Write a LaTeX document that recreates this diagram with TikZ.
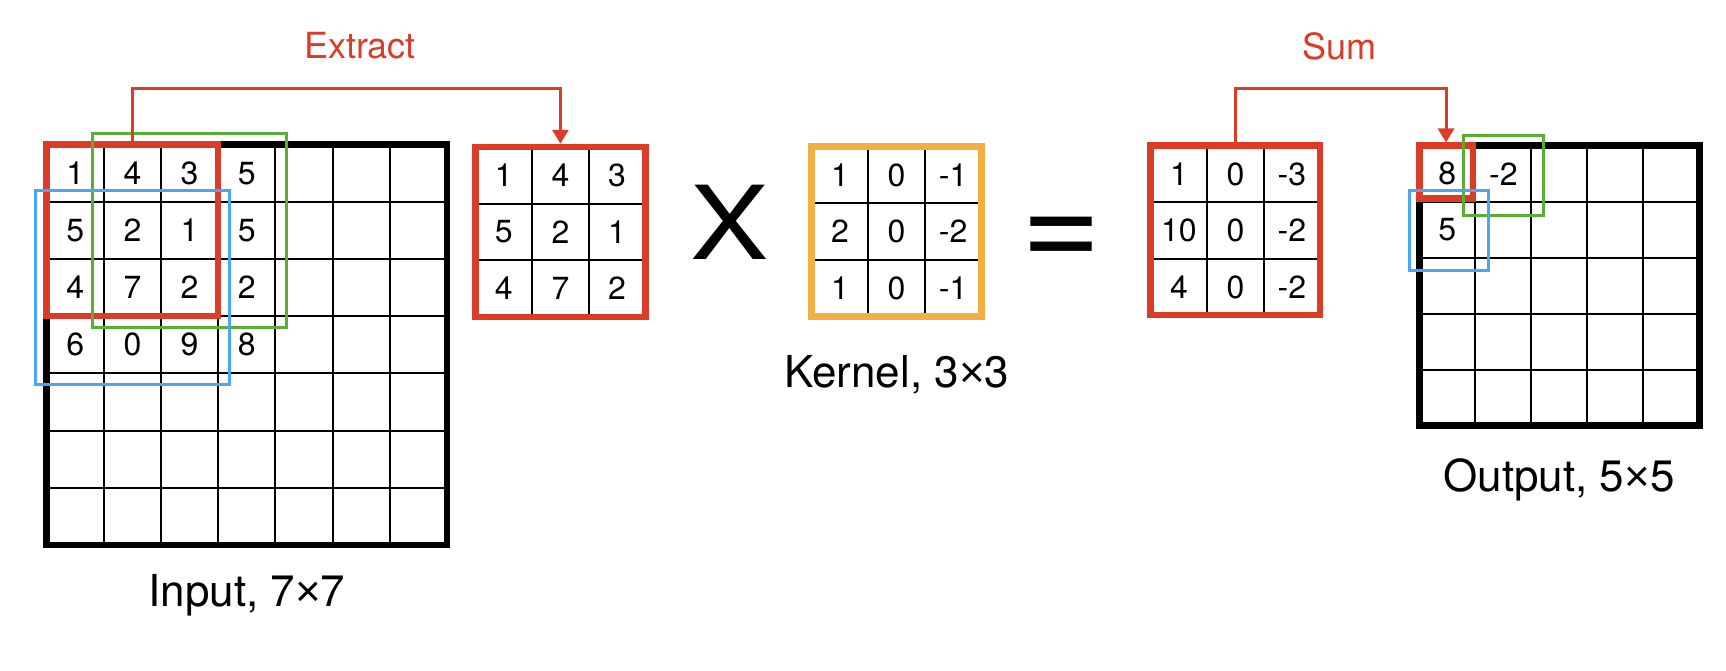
\documentclass[tikz,border=0pt]{standalone}
\usepackage{fontspec}
\setmainfont{TeX Gyre Heros}
\newfontfamily\timesfont{Liberation Sans}
\usetikzlibrary{arrows.meta}

\definecolor{boxred}{RGB}{219,60,39}
\definecolor{boxgreen}{RGB}{91,173,53}
\definecolor{boxblue}{RGB}{74,165,245}
\definecolor{boxorange}{RGB}{243,175,65}

\begin{document}
\begin{tikzpicture}[x=1pt,y=-1pt]
        \tikzstyle{every node} = [inner sep=0pt]
        \tikzstyle{num} = [font=\fontsize{32}{36}\selectfont]
        \tikzstyle{lbl} = [font=\fontsize{44}{50}\selectfont, anchor=base]
        \tikzstyle{op} = [font=\fontsize{36}{40}\selectfont, text=boxred, anchor=base]
        \tikzstyle{frame} = [draw, rectangle, line width=6.5pt]
        \tikzstyle{win} = [draw, rectangle, line width=3pt]
        \tikzstyle{gridline} = [line width=2pt]
        \tikzstyle{link} = [draw=boxred, line width=3pt, -{Triangle[width=16pt,length=14pt]}]
        \useasboundingbox (0,0) rectangle (1726,670);

        % input 7x7
        \foreach \i in {1,...,6} {
            \draw[gridline] ({46.6+57.2*\i},144.6) -- ++(0,400.4);
            \draw[gridline] (46.6,{144.6+57.2*\i}) -- ++(400.4,0);
        }
        \node[frame, minimum width=400.4pt, minimum height=400.4pt] (input) at (246.8,344.8) {};
        \foreach \v [count=\k from 0] in {1,4,3,5,5,2,1,5,4,7,2,2,6,0,9,8}
            \node[num] (in\k) at ({46.6+57.2*(mod(\k,4)+0.5)},{144.6+57.2*(floor(\k/4)+0.5)}) {\v};
        \node[frame, draw=boxred, minimum width=171.6pt, minimum height=171.6pt] (inred) at (132.4,230.4) {};
        \node[win, draw=boxgreen, minimum width=194.6pt, minimum height=194.6pt] (ingreen) at (189.6,230.4) {};
        \node[win, draw=boxblue, minimum width=194.6pt, minimum height=194.6pt] (inblue) at (132.4,287.6) {};
        \node[lbl] (inlabel) at (246.8,606.7) {Input, 7{\timesfont ×}7};

        % extracted patch
        \foreach \i in {1,2} {
            \draw[gridline] ({475.5+56.6*\i},147) -- ++(0,169.8);
            \draw[gridline] (475.5,{147+56.6*\i}) -- ++(169.8,0);
        }
        \node[frame, draw=boxred, minimum width=169.8pt, minimum height=169.8pt] (patch) at (560.4,231.9) {};
        \foreach \v [count=\k from 0] in {1,4,3,5,2,1,4,7,2}
            \node[num] (pa\k) at ({475.5+56.6*(mod(\k,3)+0.5)},{147+56.6*(floor(\k/3)+0.5)}) {\v};

        \node[font=\fontsize{102}{110}\selectfont, anchor=base] (times) at (730,259.3) {\scalebox{1.15}[1]{X}};

        % kernel
        \foreach \i in {1,2} {
            \draw[gridline] ({811.7+56.6*\i},146.7) -- ++(0,169.8);
            \draw[gridline] (811.7,{146.7+56.6*\i}) -- ++(169.8,0);
        }
        \node[frame, draw=boxorange, minimum width=169.8pt, minimum height=169.8pt] (kernel) at (896.6,231.6) {};
        \foreach \v [count=\k from 0] in {1,0,-1,2,0,-2,1,0,-1}
            \node[num] (ke\k) at ({811.7+56.6*(mod(\k,3)+0.5)},{146.7+56.6*(floor(\k/3)+0.5)}) {\v};
        \node[lbl] (kelabel) at (896.7,387.7) {Kernel, 3{\timesfont ×}3};

        \node[font=\fontsize{137}{140}\selectfont, anchor=base] (equals) at (1061.3,268.5) {=};

        % products
        \foreach \i in {1,2} {
            \draw[gridline] ({1150.7+56.5*\i},145.7) -- ++(0,169.5);
            \draw[gridline] (1150.7,{145.7+56.5*\i}) -- ++(169.5,0);
        }
        \node[frame, draw=boxred, minimum width=169.5pt, minimum height=169.5pt] (prod) at (1235.45,230.45) {};
        \foreach \v [count=\k from 0] in {1,0,-3,10,0,-2,4,0,-2}
            \node[num] (pr\k) at ({1150.7+56.5*(mod(\k,3)+0.5)},{145.7+56.5*(floor(\k/3)+0.5)}) {\v};

        % output 5x5
        \foreach \i in {1,...,4} {
            \draw[gridline] ({1419.3+56*\i},145.7) -- ++(0,280);
            \draw[gridline] (1419.3,{145.7+56*\i}) -- ++(280,0);
        }
        \node[frame, minimum width=280pt, minimum height=280pt] (output) at (1559.3,285.7) {};
        \node[num] (out1) at (1447.3,173.7) {8};
        \node[num] (out2) at (1503.3,173.7) {-2};
        \node[num] (out3) at (1447.3,229.7) {5};
        \node[frame, draw=boxred, minimum width=53.5pt, minimum height=52.6pt] (outred) at (1446.05,172) {};
        \node[win, draw=boxgreen, minimum width=80pt, minimum height=80pt] (outgreen) at (1503,175.4) {};
        \node[win, draw=boxblue, minimum width=79.3pt, minimum height=79.3pt] (outblue) at (1448.65,230.35) {};
        \node[lbl] (outlabel) at (1559,491.7) {Output, 5{\timesfont ×}5};

        % connectors
        \draw[link] (inred.north) -- ++(0,-53) -| (patch.north);
        \node[op] (extract) at (360,58.3) {Extract};
        \draw[link] (prod.north) -- ++(0,-54.2) -| (outred.north);
        \node[op] (sum) at (1339.7,59) {Sum};
\end{tikzpicture}
\end{document}
